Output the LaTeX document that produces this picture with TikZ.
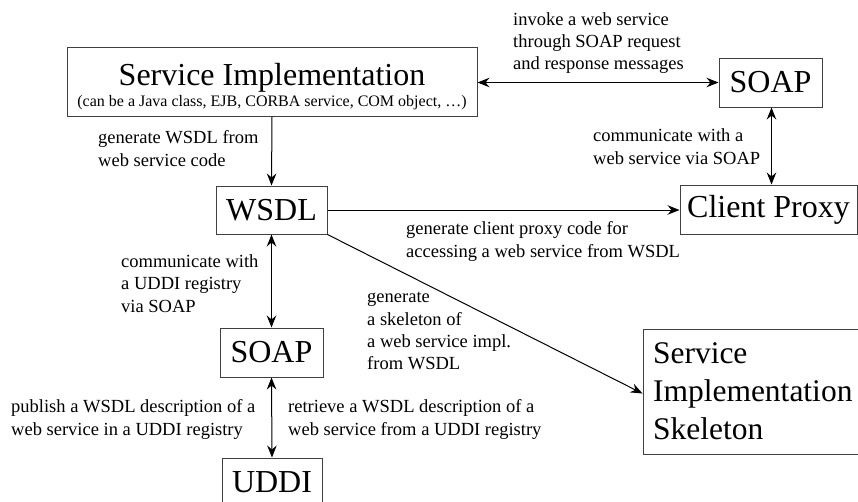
\documentclass[tikz,border=0pt]{standalone}
\usepackage{fontspec}
\setmainfont{Liberation Serif}
\usetikzlibrary{arrows.meta}
\begin{document}
\begin{tikzpicture}[x=1pt,y=-1pt,
  box/.style={draw=black!75, line width=1pt, inner sep=0pt, minimum height=49pt, font=\fontsize{32}{38}\selectfont},
  lbl/.style={anchor=base west, inner sep=0pt, align=left, font=\fontsize{18.5}{22.2}\selectfont},
  arr/.style={line width=1pt, -{Stealth[length=12pt,width=9.5pt,inset=4pt]}},
  darr/.style={line width=1pt, {Stealth[length=12pt,width=9.5pt,inset=4pt]}-{Stealth[length=12pt,width=9.5pt,inset=4pt]}}]
\useasboundingbox (0,0) rectangle (858,501);
\clip (0,0) rectangle (858,501);
% boxes
\node[box, minimum width=410pt, minimum height=69pt] (si) at (272,81.5) {};
\node[anchor=base, inner sep=0pt, font=\fontsize{32}{38}\selectfont] (sititle) at (272,85) {Service Implementation};
\node[anchor=base, inner sep=0pt, font=\fontsize{16}{19}\selectfont] (sisub) at (272,106) {(can be a Java class, EJB, CORBA service, COM object, …)};
\node[box, minimum width=111pt, minimum height=48pt] (wsdl) at (271.5,210) {WSDL};
\node[box, minimum width=103pt] (soapT) at (770.5,82.5) {SOAP};
\node[box, minimum width=177pt] (cp) at (768.5,209.5) {Client Proxy};
\node[box, minimum width=103pt] (soapB) at (271.5,352.5) {SOAP};
\node[box, minimum width=100pt] (uddi) at (272,482.5) {UDDI};
\node[box, minimum width=212pt, minimum height=125pt, text width=196pt, inner xsep=10pt, align=left, font=\fontsize{31.5}{38}\selectfont] (skel) at (751,391.5) {Service\\Implementation\\Skeleton};
% connectors
\draw[darr] (si.east |- soapT.west) -- (soapT.west);
\draw[arr] (si.south) -- (wsdl.north);
\draw[darr] ([xshift=1pt]soapT.south) -- ([xshift=1pt]soapT.south |- cp.north);
\draw[arr] (wsdl.east) -- (wsdl.east -| cp.west);
\draw[arr] (wsdl.south east) -- ([yshift=-2pt]skel.west);
\draw[darr] (wsdl.south) -- (soapB.north);
\draw[darr] (soapB.south) -- (uddi.north);
% labels (anchor = baseline of last line)
\node[lbl] (l1) at (513,69.5) {invoke a web service\\through SOAP request\\and response messages};
\node[lbl] (l2) at (98,166) {generate WSDL from\\web service code};
\node[lbl] (l3) at (593,164) {communicate with a\\web service via SOAP};
\node[lbl] (l4) at (406,257) {generate client proxy code for\\accessing a web service from WSDL};
\node[lbl] (l5) at (367,369.5) {generate\\a skeleton of\\a web service impl.\\from WSDL};
\node[lbl] (l6) at (121,312) {communicate with\\a UDDI registry\\via SOAP};
\node[lbl] (l7) at (11,435) {publish a WSDL description of a\\web service in a UDDI registry};
\node[lbl] (l8) at (288,435) {retrieve a WSDL description of a\\web service from a UDDI registry};
\end{tikzpicture}
\end{document}
